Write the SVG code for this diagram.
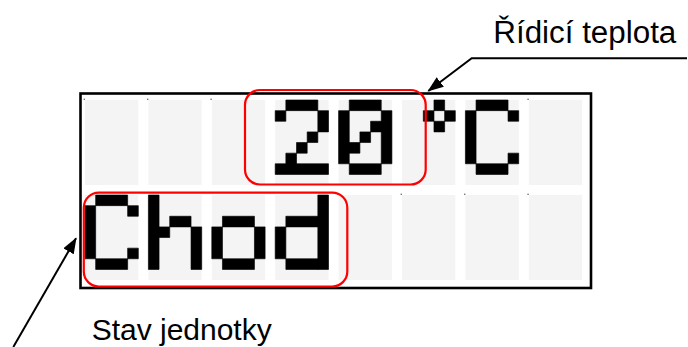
<svg xmlns="http://www.w3.org/2000/svg" xmlns:xlink="http://www.w3.org/1999/xlink" width="688" height="347" viewBox="0 0 688 347">
  <style>
    .frame { fill: #ffffff; stroke: #000000; stroke-width: 2.6; }
    .cell { fill: #f4f4f4; }
    .dot { fill: #777777; }
    .px { fill: #000000; stroke: #000000; stroke-width: 0.06; }
    .hl { fill: none; stroke: #ff0000; stroke-width: 2.2; }
    .label { font-family: "Liberation Sans", Arial, sans-serif; fill: #000000; }
    .conn { fill: none; stroke: #000000; stroke-width: 2; }
  </style>
  <defs>
    <marker id="arrow" viewBox="0 0 16 12" refX="15" refY="6" markerWidth="16" markerHeight="12" markerUnits="userSpaceOnUse" orient="auto">
      <path d="M0,0 L16,6 L0,12 Z" fill="#000000"/>
    </marker>
    <!-- 5x8 character cell with a corner dot (blank character) -->
    <g id="blank">
      <rect class="cell" x="0" y="0" width="53.3" height="85"/>
      <rect class="dot" x="-1.4" y="-1.4" width="1.4" height="1.4"/>
    </g>
    <rect id="cellbg" class="cell" x="0" y="0" width="53.3" height="85"/>
    <!-- glyphs in pixel units, 5 columns x 7 rows -->
    <path id="g2" class="px" d="M1 0h3v1h-3z M0 1h1v1h-1z M4 1h1v2h-1z M3 3h1v1h-1z M2 4h1v1h-1z M1 5h1v1h-1z M0 6h5v1h-5z"/>
    <path id="g0" class="px" d="M1 0h3v1h-3z M0 1h1v5h-1z M4 1h1v5h-1z M3 2h1v1h-1z M2 3h1v1h-1z M1 4h1v1h-1z M1 6h3v1h-3z"/>
    <path id="gdeg" class="px" d="M3 0h1v1h-1z M2 1h1v1h-1z M4 1h1v1h-1z M3 2h1v1h-1z"/>
    <path id="gC" class="px" d="M1 0h3v1h-3z M0 1h1v5h-1z M4 1h1v1h-1z M4 5h1v1h-1z M1 6h3v1h-3z"/>
    <path id="gh" class="px" d="M0 0h1v7h-1z M2 2h2v1h-2z M1 3h1v1h-1z M4 3h1v4h-1z"/>
    <path id="go" class="px" d="M1 2h3v1h-3z M0 3h1v3h-1z M4 3h1v3h-1z M1 6h3v1h-3z"/>
    <path id="gd" class="px" d="M4 0h1v7h-1z M1 2h3v1h-3z M0 3h1v3h-1z M1 6h3v1h-3z"/>
  </defs>

  <!-- LCD body -->
  <g id="lcd">
    <rect class="frame" x="80.5" y="93.5" width="510.5" height="194.5"/>
    <!-- row 1 : "   20°C " -->
    <g id="row1">
      <use xlink:href="#blank" x="85" y="100"/>
      <use xlink:href="#blank" x="148.4" y="100"/>
      <use xlink:href="#blank" x="211.8" y="100"/>
      <use xlink:href="#cellbg" x="275.2" y="100"/>
      <use xlink:href="#cellbg" x="338.6" y="100"/>
      <use xlink:href="#cellbg" x="402" y="100"/>
      <use xlink:href="#cellbg" x="465.4" y="100"/>
      <use xlink:href="#blank" x="528.8" y="100"/>
      <use xlink:href="#g2" transform="translate(275.2 100) scale(10.66 10.63)"/>
      <use xlink:href="#g0" transform="translate(338.6 100) scale(10.66 10.63)"/>
      <use xlink:href="#gdeg" transform="translate(402 100) scale(10.66 10.63)"/>
      <use xlink:href="#gC" transform="translate(465.4 100) scale(10.66 10.63)"/>
    </g>
    <!-- row 2 : "Chod    " -->
    <g id="row2">
      <use xlink:href="#cellbg" x="85" y="195"/>
      <use xlink:href="#cellbg" x="148.4" y="195"/>
      <use xlink:href="#cellbg" x="211.8" y="195"/>
      <use xlink:href="#cellbg" x="275.2" y="195"/>
      <use xlink:href="#blank" x="338.6" y="195"/>
      <use xlink:href="#blank" x="402" y="195"/>
      <use xlink:href="#blank" x="465.4" y="195"/>
      <use xlink:href="#blank" x="528.8" y="195"/>
      <use xlink:href="#gC" transform="translate(85 195) scale(10.66 10.63)"/>
      <use xlink:href="#gh" transform="translate(148.4 195) scale(10.66 10.63)"/>
      <use xlink:href="#go" transform="translate(211.8 195) scale(10.66 10.63)"/>
      <use xlink:href="#gd" transform="translate(275.2 195) scale(10.66 10.63)"/>
    </g>
  </g>

  <!-- highlighted regions -->
  <g id="setpoint">
    <rect class="hl" x="245" y="90" width="180.7" height="94.5" rx="15" ry="15"/>
  </g>
  <g id="status">
    <rect class="hl" x="83.8" y="192.7" width="263.5" height="93.8" rx="15" ry="15"/>
  </g>

  <!-- labels -->
  <g id="label-setpoint">
    <text class="label" x="493.3" y="43" font-size="31" textLength="183" lengthAdjust="spacingAndGlyphs">Řídicí teplota</text>
  </g>
  <g id="label-status">
    <text class="label" x="91.7" y="339.6" font-size="29" textLength="180" lengthAdjust="spacingAndGlyphs">Stav jednotky</text>
  </g>

  <!-- leader lines -->
  <g id="connectors">
    <path class="conn" d="M687 58.3 H471.7 L428.3 91" marker-end="url(#arrow)"/>
    <path class="conn" d="M13.3 347 L76 238.3" marker-end="url(#arrow)"/>
  </g>
</svg>
